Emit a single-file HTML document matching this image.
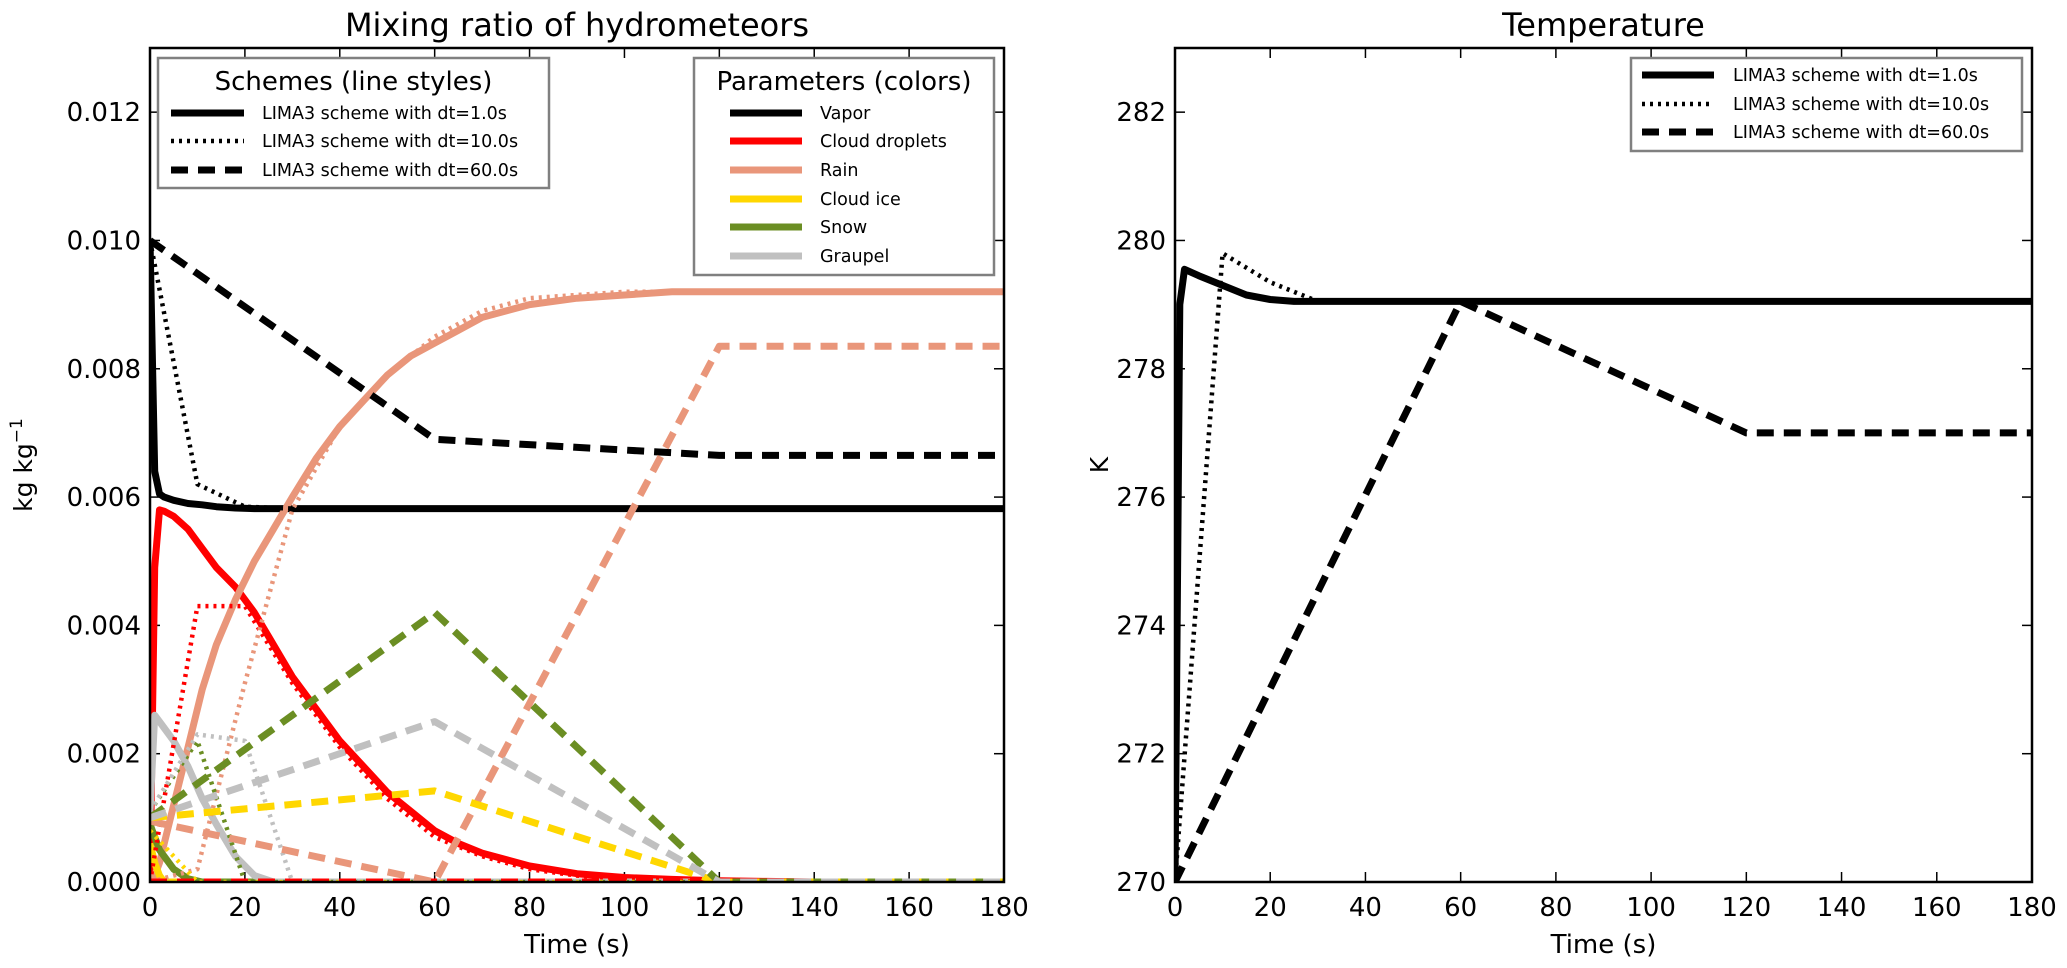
<!DOCTYPE html>
<html><head><meta charset="utf-8"><style>
html,body{margin:0;padding:0;background:#fff;}
svg{display:block;font-family:"DejaVu Sans","Liberation Sans",sans-serif;}
</style></head><body>
<svg id="fig" width="2067" height="968" viewBox="0 0 2067 968" xmlns="http://www.w3.org/2000/svg">
<rect width="2067" height="968" fill="#fff"/>
<g id="left"></g>
<g id="right"></g>
</svg>
<script>
// ---- data: time arrays and values ----
const tS = [0,1,2,3,5,8,11,14,18,22,26,30,35,40,45,50,55,60,65,70,80,90,100,110,120,130,140,160,180];
const tD10 = [0,10,20,30,40,50,60,70,80,90,100,110,120,130,140,150,160,170,180];
const tD60 = [0,60,120,180];

const vaporS = [0.0100,0.0064,0.00605,0.0060,0.00595,0.0059,0.00588,0.00585,0.00583,0.00582,0.00582,0.00582,0.00582,0.00582,0.00582,0.00582,0.00582,0.00582,0.00582,0.00582,0.00582,0.00582,0.00582,0.00582,0.00582,0.00582,0.00582,0.00582,0.00582];
const vaporD10 = [0.0100,0.0062,0.00585,0.00582,0.00582,0.00582,0.00582,0.00582,0.00582,0.00582,0.00582,0.00582,0.00582,0.00582,0.00582,0.00582,0.00582,0.00582,0.00582];
const vaporD60 = [0.0100,0.0069,0.00665,0.00665];

const cloudS = [0,0.0049,0.0058,0.00578,0.0057,0.0055,0.0052,0.0049,0.0046,0.0042,0.0037,0.0032,0.0027,0.0022,0.0018,0.0014,0.0011,0.0008,0.0006,0.00045,0.00025,0.00013,0.00007,0.00004,0.00002,0.00001,0,0,0];
const cloudD10 = [0,0.0043,0.0043,0.0031,0.0021,0.0013,0.0007,0.0004,0.0002,0.0001,0.00005,0.00002,0,0,0,0,0,0,0];
const cloudD60 = [0,0,0,0];

const rainS = [0,0.0001,0.0003,0.0006,0.0012,0.0021,0.0030,0.0037,0.0044,0.0050,0.0055,0.0060,0.0066,0.0071,0.0075,0.0079,0.0082,0.0084,0.0086,0.0088,0.0090,0.0091,0.00915,0.0092,0.0092,0.0092,0.0092,0.0092,0.0092];
const rainD10 = [0,0.0002,0.0031,0.0058,0.0071,0.0079,0.0085,0.0089,0.0091,0.00915,0.0092,0.0092,0.0092,0.0092,0.0092,0.0092,0.0092,0.0092,0.0092];
const rainD60 = [0.00095,0,0.00835,0.00835];

const iceS = [0.0006,0.0003,0.0001,0,0,0,0,0,0,0,0,0,0,0,0,0,0,0,0,0,0,0,0,0,0,0,0,0,0];
const iceD10 = [0.0008,0,0,0,0,0,0,0,0,0,0,0,0,0,0,0,0,0,0];
const iceD60 = [0.0010,0.00142,0,0];

const snowS = [0.0009,0.0007,0.0005,0.0004,0.0002,0.00005,0,0,0,0,0,0,0,0,0,0,0,0,0,0,0,0,0,0,0,0,0,0,0];
const snowD10 = [0.0011,0.0022,0,0,0,0,0,0,0,0,0,0,0,0,0,0,0,0,0];
const snowD60 = [0.0010,0.0042,0,0];

const graupelS = [0.0011,0.0026,0.0025,0.0024,0.0022,0.0018,0.0013,0.0009,0.0004,0.0001,0,0,0,0,0,0,0,0,0,0,0,0,0,0,0,0,0,0,0];
const graupelD10 = [0.0011,0.0023,0.0022,0,0,0,0,0,0,0,0,0,0,0,0,0,0,0,0];
const graupelD60 = [0.0010,0.0025,0,0];

const tempTS = [0,1,2,5,10,15,20,25,30,60,120,180];
const tempS = [270,279.0,279.55,279.45,279.3,279.15,279.08,279.05,279.05,279.05,279.05,279.05];
const tempD10 = [270,279.8,279.35,279.05,279.05,279.05,279.05,279.05,279.05,279.05,279.05,279.05,279.05,279.05,279.05,279.05,279.05,279.05,279.05];
const tempD60 = [270,279.05,277.0,277.0];

const xTicks = [0,20,40,60,80,100,120,140,160,180];
const yTicksL = [0,0.002,0.004,0.006,0.008,0.010,0.012];
const yTickLabelsL = ["0.000","0.002","0.004","0.006","0.008","0.010","0.012"];
const yTicksR = [270,272,274,276,278,280,282];
const paramNames = ["Vapor","Cloud droplets","Rain","Cloud ice","Snow","Graupel"];
const paramColors = ["#000000","#ff0000","#e9967a","#ffd700","#6b8e23","#c0c0c0"];
const schemeNames = ["LIMA3 scheme with dt=1.0s","LIMA3 scheme with dt=10.0s","LIMA3 scheme with dt=60.0s"];

// ---- layout ----
const NS="http://www.w3.org/2000/svg";
const L={x0:150,x1:1004,y0:882,y1:48,xmin:0,xmax:180,ymin:0,ymax:0.013};
const R={x0:1175,x1:2032,y0:882,y1:48,xmin:0,xmax:180,ymin:270,ymax:283};
function sx(a,v){return a.x0+(v-a.xmin)/(a.xmax-a.xmin)*(a.x1-a.x0);}
function sy(a,v){return a.y0-(v-a.ymin)/(a.ymax-a.ymin)*(a.y0-a.y1);}
function mk(tag,attrs,parent){const e=document.createElementNS(NS,tag);for(const k in attrs)e.setAttribute(k,attrs[k]);parent.appendChild(e);return e;}
const styles=[{w:7,d:""},{w:4.5,d:"3,5"},{w:7,d:"17,10"}];

function line(g,a,xs,ys,color,st,name){
  const pts=xs.map((x,i)=>sx(a,x).toFixed(1)+","+sy(a,ys[i]).toFixed(1)).join(" ");
  const p=mk("polyline",{points:pts,fill:"none",stroke:color,"stroke-width":st.w,"stroke-dasharray":st.d,"stroke-linejoin":"round","clip-path":"url(#clip-"+g.id+")"},g);
  
  
}

function axes(g,a,yt,ylab,title,ylabel,ylx){
  const cp=mk("clipPath",{id:"clip-"+g.id},g);
  mk("rect",{x:a.x0,y:a.y1,width:a.x1-a.x0,height:a.y0-a.y1},cp);
  const t=mk("text",{x:(a.x0+a.x1)/2,y:36,"text-anchor":"middle","font-size":32},g);t.textContent=title;
  
  
  xTicks.forEach(v=>{
    const x=sx(a,v);
    mk("line",{x1:x,x2:x,y1:a.y0,y2:a.y0-10,stroke:"#000","stroke-width":1.5},g);
    mk("line",{x1:x,x2:x,y1:a.y1,y2:a.y1+10,stroke:"#000","stroke-width":1.5},g);
    const tx=mk("text",{x:x,y:a.y0+34,"text-anchor":"middle","font-size":26},g);tx.textContent=v;
    
    
  });
  yt.forEach((v,i)=>{
    const y=sy(a,v);
    mk("line",{x1:a.x0,x2:a.x0+10,y1:y,y2:y,stroke:"#000","stroke-width":1.5},g);
    mk("line",{x1:a.x1,x2:a.x1-10,y1:y,y2:y,stroke:"#000","stroke-width":1.5},g);
    const ty=mk("text",{x:a.x0-9,y:y+9,"text-anchor":"end","font-size":26},g);ty.textContent=ylab[i];
    
    
  });
  const xl=mk("text",{x:(a.x0+a.x1)/2,y:953,"text-anchor":"middle","font-size":26},g);xl.textContent="Time (s)";
  
  
  const yl=mk("text",{x:ylx,y:(a.y0+a.y1)/2,"text-anchor":"middle","font-size":25,transform:"rotate(-90 "+ylx+" "+((a.y0+a.y1)/2)+")"},g);
  yl.innerHTML=ylabel;
  
  
}
function frame(g,a){
  const f=mk("rect",{x:a.x0,y:a.y1,width:a.x1-a.x0,height:a.y0-a.y1,fill:"none",stroke:"#000","stroke-width":2.5},g);
  
  
}

const gl=document.getElementById("left"), gr=document.getElementById("right");
axes(gl,L,yTicksL,yTickLabelsL,"Mixing ratio of hydrometeors",'kg kg<tspan font-size="17" dy="-10">−1</tspan>',32);
axes(gr,R,yTicksR,yTicksR.map(String),"Temperature","K",1108);

const sets=[[vaporS,vaporD10,vaporD60],[cloudS,cloudD10,cloudD60],[rainS,rainD10,rainD60],[iceS,iceD10,iceD60],[snowS,snowD10,snowD60],[graupelS,graupelD10,graupelD60]];
const times=[tS,tD10,tD60];
for(let s=0;s<3;s++){
  for(let p=0;p<6;p++){
    line(gl,L,times[s],sets[p][s],paramColors[p],styles[s],paramNames[p].toLowerCase().replace(' ','-')+"-line-"+["dt1","dt10","dt60"][s]);
  }
}
line(gr,R,tempTS,tempS,"#000",styles[0],"temp-line-dt1");
line(gr,R,tD10,tempD10,"#000",styles[1],"temp-line-dt10");
line(gr,R,tD60,tempD60,"#000",styles[2],"temp-line-dt60");
frame(gl,L); frame(gr,R);

function legend(g,x,y,w,h,title,names,colors,st,lx1,lx2,tx,ys,fs,lname){
  const lg=mk("g",{},g);
  
  
  mk("rect",{x:x,y:y,width:w,height:h,fill:"#fff",stroke:"#808080","stroke-width":2.5},lg);
  if(title){const t=mk("text",{x:x+w/2,y:y+32,"text-anchor":"middle","font-size":26},lg);t.textContent=title;}
  names.forEach((n,i)=>{
    const s=st[i];
    mk("line",{x1:lx1,x2:lx2,y1:ys[i],y2:ys[i],stroke:colors[i],"stroke-width":s.w,"stroke-dasharray":s.d},lg);
    const t=mk("text",{x:tx,y:ys[i]+6,"font-size":fs},lg);t.textContent=n;
    
    
  });
}
legend(gl,158,58,391,130,"Schemes (line styles)",schemeNames,["#000","#000","#000"],styles,171,244,262,[113,141,170],17.5,"schemes-legend");
legend(gl,694,58,300,217,"Parameters (colors)",paramNames,paramColors,[styles[0],styles[0],styles[0],styles[0],styles[0],styles[0]],730,802,820,[113,141,170,199,227,256],17.5,"parameters-legend");
legend(gr,1631,58,391,93,"",schemeNames,["#000","#000","#000"],styles,1642,1714,1733,[75,104,132],17.5,"temperature-legend");
</script>
</body></html>
